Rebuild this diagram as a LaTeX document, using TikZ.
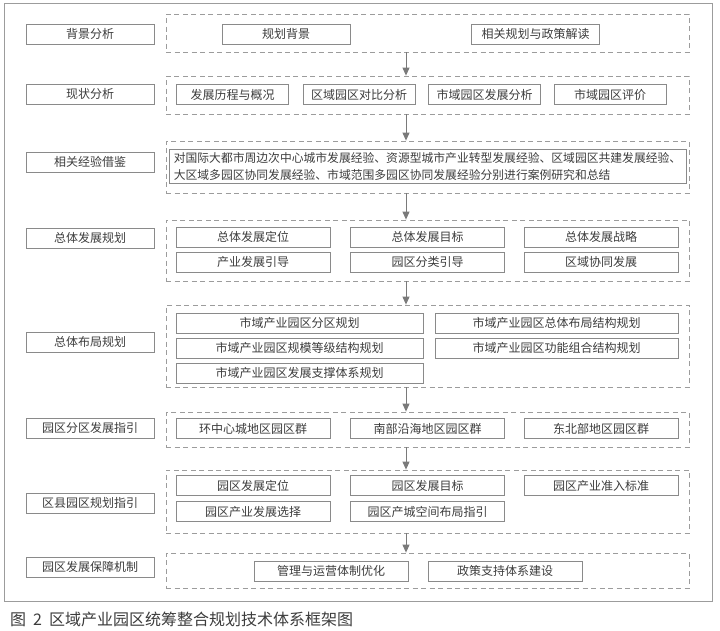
\documentclass[tikz,border=0pt]{standalone}
\usepackage{fontspec}
\newfontfamily\cjk{Noto Sans CJK SC}
\usetikzlibrary{arrows.meta}
\definecolor{txt}{HTML}{3C3C3C}
\definecolor{boxc}{HTML}{8A8A8A}
\definecolor{dashc}{HTML}{9C9C9C}
\definecolor{arrc}{HTML}{7A7A7A}
\tikzset{
	box/.style={draw=boxc, line width=0.8pt, inner sep=0pt, text=txt, font=\cjk\fontsize{12}{14}\selectfont, minimum height=20pt},
	lbl/.style={box, minimum width=128pt},
	item/.style={box, minimum width=154pt},
	grp/.style={draw=dashc, line width=0.8pt, dash pattern=on 5pt off 3.5pt, inner sep=0pt, minimum width=523pt},
	flow/.style={draw=arrc, line width=1pt, -{Triangle[length=8pt,width=7pt]}},
}
\begin{document}
\begin{tikzpicture}[x=1pt, y=-1pt]
		\useasboundingbox (0,0) rectangle (720,630);
		\draw[draw=dashc, line width=1pt] (4,3) rectangle (712,601);
		% left column
		\foreach \y/\t [count=\i] in {34/背景分析, 94/现状分析, 162/相关经验借鉴, 238/总体发展规划, 342/总体布局规划, 428/园区分区发展指引, 503/区县园区规划指引, 567/园区发展保障机制}
			\node[lbl] (L\i) at (90,\y) {\t};
		% dashed groups
		\node[grp, minimum height=38pt] (g1) at (427.5,33) {};
		\node[grp, minimum height=38pt] (g2) at (427.5,95) {};
		\node[grp, minimum height=52pt] (g3) at (427.5,167) {};
		\node[grp, minimum height=61pt] (g4) at (427.5,250.5) {};
		\node[grp, minimum height=82pt] (g5) at (427.5,346) {};
		\node[grp, minimum height=35pt] (g6) at (427.5,429.5) {};
		\node[grp, minimum height=63pt] (g7) at (427.5,501.5) {};
		\node[grp, minimum height=35pt] (g8) at (427.5,570.5) {};
		% 1
		\node[box, minimum width=128pt] (bj) at (286,34) {规划背景};
		\node[box, minimum width=128pt] (zc) at (535.5,34) {相关规划与政策解读};
		% 2
		\node[box, minimum width=112pt] (lc) at (232.5,94.5) {发展历程与概况};
		\node[box, minimum width=112pt] (db) at (359,94.5) {区域园区对比分析};
		\node[box, minimum width=112pt] (fx) at (484.5,94.5) {市域园区发展分析};
		\node[box, minimum width=112pt] (pj) at (610,94.5) {市域园区评价};
		% 3
		\node[box, minimum width=517pt, minimum height=34pt, align=left, font=\cjk\fontsize{11.8}{17}\selectfont] (jy) at (427.5,166) {对国际大都市周边次中心城市发展经验、资源型城市产业转型发展经验、区域园区共建发展经验、\\大区域多园区协同发展经验、市域范围多园区协同发展经验分别进行案例研究和总结};
		% 4
		\node[item] (dw) at (253,237) {总体发展定位};
		\node[item] (mb) at (427.5,237) {总体发展目标};
		\node[item] (zl) at (601,237) {总体发展战略};
		\node[item] (cy) at (253,262) {产业发展引导};
		\node[item] (fl) at (427.5,262) {园区分类引导};
		\node[item] (xt) at (601,262) {区域协同发展};
		% 5
		\node[box, minimum width=247pt] (fq) at (299.5,323) {市域产业园区分区规划};
		\node[box, minimum width=243pt] (bg) at (556.5,323) {市域产业园区总体布局结构规划};
		\node[box, minimum width=247pt] (gm) at (299.5,348) {市域产业园区规模等级结构规划};
		\node[box, minimum width=243pt] (gn) at (556.5,348) {市域产业园区功能组合结构规划};
		\node[box, minimum width=247pt] (zch) at (299.5,373) {市域产业园区发展支撑体系规划};
		% 6
		\node[item] (hz) at (253,428.5) {环中心城地区园区群};
		\node[item] (nb) at (427.5,428.5) {南部沿海地区园区群};
		\node[item] (db2) at (601,428.5) {东北部地区园区群};
		% 7
		\node[item] (ydw) at (253,485.5) {园区发展定位};
		\node[item] (ymb) at (427.5,485.5) {园区发展目标};
		\node[item] (zr) at (601,485.5) {园区产业准入标准};
		\node[item] (xz) at (253,511.5) {园区产业发展选择};
		\node[item] (kj) at (427.5,511.5) {园区产城空间布局指引};
		% 8
		\node[item] (gl) at (331,571) {管理与运营体制优化};
		\node[item] (zcz) at (505,571) {政策支持体系建设};
		% arrows
		\coordinate (ax) at (406,0);
		\foreach \a/\b in {g1/g2, g2/g3, g3/g4, g4/g5, g5/g6, g6/g7, g7/g8}
			\draw[flow] (\a.south -| ax) -- (\b.north -| ax);
		\node[anchor=west, inner sep=0pt, text=txt, font=\cjk\fontsize{16}{18}\selectfont] (cap) at (10,619) {图\hspace{7pt}2\hspace{7pt}区域产业园区统筹整合规划技术体系框架图};
		\end{tikzpicture}
\end{document}
